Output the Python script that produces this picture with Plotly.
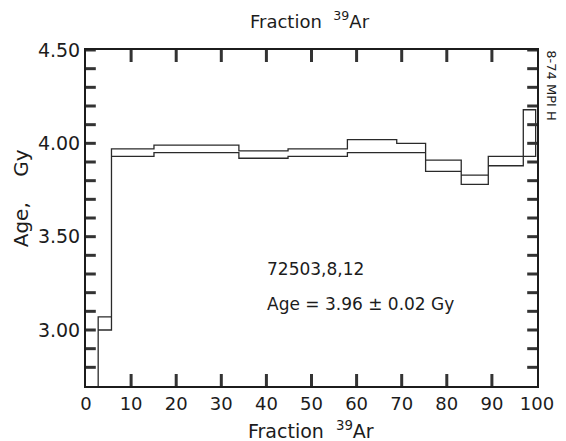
import plotly.graph_objects as go

# 40Ar-39Ar step-heating age spectrum, sample 72503,8,12
# cumulative fraction of 39Ar released (%) at the step boundaries
step_edges = [0.0, 2.7, 5.65, 15.07, 33.9, 44.8, 57.96, 68.9, 75.3, 83.2, 89.2, 96.96, 99.7]
# lower / upper limit of each step age (Gy); the first step lies below the plotted range
age_low = [2.50, 3.00, 3.93, 3.95, 3.92, 3.93, 3.95, 3.95, 3.85, 3.78, 3.88, 3.93]
age_high = [2.60, 3.07, 3.97, 3.99, 3.96, 3.97, 4.02, 4.00, 3.91, 3.83, 3.93, 4.18]

x_ticks = [0, 10, 20, 30, 40, 50, 60, 70, 80, 90, 100]
y_ticks = [3.00, 3.50, 4.00, 4.50]
y_minor = [2.8, 2.9, 3.1, 3.2, 3.3, 3.4, 3.6, 3.7, 3.8, 3.9, 4.1, 4.2, 4.3, 4.4]
sample_label = "72503,8,12"
plateau_label = "Age = 3.96 ± 0.02 Gy"
fig_code = "8-74 MPI H"

X_RANGE = [0, 100]
Y_RANGE = [2.7, 4.5]

# build one closed outline: upper step curve left→right, lower step curve right→left
xs, ys = [], []
n = len(age_high)
for i in range(n):
    xs += [step_edges[i], step_edges[i + 1]]
    ys += [age_high[i], age_high[i]]
for i in reversed(range(n)):
    xs += [step_edges[i + 1], step_edges[i]]
    ys += [age_low[i], age_low[i]]
xs.append(xs[0])
ys.append(ys[0])

INK = "#1c1c1c"
FONT = "DejaVu Sans"

W, H = 566, 441
ml, mr, mt, mb = 86, 20, 50, 55
pw, ph = W - ml - mr, H - mt - mb


def px(xp):
    return (xp - ml) / pw


def py(yp):
    return (H - mb - yp) / ph


fig = go.Figure()
fig.add_trace(go.Scatter(
    x=xs, y=ys, mode="lines",
    line=dict(color="#2a2a2a", width=1.3),
    hoverinfo="skip", showlegend=False,
))

# inward tick marks on all four sides of the frame, one short trace each
dx_tick = 10 * (X_RANGE[1] - X_RANGE[0]) / pw
dy_tick = 12 * (Y_RANGE[1] - Y_RANGE[0]) / ph
tick_style = dict(color="#333333", width=3)
for v in x_ticks[1:-1]:
    fig.add_trace(go.Scatter(x=[v, v], y=[Y_RANGE[0], Y_RANGE[0] + dy_tick], mode="lines",
                             line=tick_style, hoverinfo="skip", showlegend=False))
    fig.add_trace(go.Scatter(x=[v, v], y=[Y_RANGE[1], Y_RANGE[1] - dy_tick], mode="lines",
                             line=tick_style, hoverinfo="skip", showlegend=False))
for v in y_ticks + y_minor:
    fig.add_trace(go.Scatter(x=[X_RANGE[0], X_RANGE[0] + dx_tick], y=[v, v], mode="lines",
                             line=tick_style, hoverinfo="skip", showlegend=False))
    fig.add_trace(go.Scatter(x=[X_RANGE[1], X_RANGE[1] - dx_tick], y=[v, v], mode="lines",
                             line=tick_style, hoverinfo="skip", showlegend=False))

fig.update_layout(
    width=W, height=H,
    margin=dict(l=ml, r=mr, t=mt, b=mb),
    paper_bgcolor="white", plot_bgcolor="white",
    font=dict(family=FONT, color=INK),
    xaxis=dict(
        range=X_RANGE, tickmode="array", tickvals=x_ticks,
        ticktext=[str(v) for v in x_ticks], ticks="",
        showline=True, linecolor=INK, linewidth=2, mirror=True,
        showgrid=False, zeroline=False,
        tickfont=dict(family=FONT, size=18, color=INK),
    ),
    yaxis=dict(
        range=Y_RANGE, tickmode="array", tickvals=y_ticks,
        ticktext=[f"{v:.2f}" for v in y_ticks], ticks="",
        showline=True, linecolor=INK, linewidth=2, mirror=True,
        showgrid=False, zeroline=False,
        tickfont=dict(family=FONT, size=19, color=INK),
    ),
)

annotations = [
    dict(text="Fraction\u00a0\u00a0<sup>39</sup>Ar", x=px(314), y=py(20),
         font=dict(size=18)),
    dict(text="Fraction\u00a0\u00a0<sup>39</sup>Ar", x=px(315), y=py(430),
         font=dict(size=19)),
    dict(text="Age,\u00a0\u00a0\u00a0\u00a0Gy", x=px(20), y=py(198), textangle=-90,
         font=dict(size=20)),
    dict(text=sample_label, x=px(269), y=py(269), xanchor="left",
         font=dict(size=17)),
    dict(text=plateau_label, x=px(269), y=py(304), xanchor="left",
         font=dict(size=17)),
    dict(text=fig_code, x=px(560), y=py(85), textangle=90,
         font=dict(size=13)),
]
for a in annotations:
    a.setdefault("xanchor", "center")
    a.update(xref="paper", yref="paper", yanchor="middle", showarrow=False)
    a["font"].update(family=FONT, color=INK)
    fig.add_annotation(**a)

fig.write_html("out.html")
